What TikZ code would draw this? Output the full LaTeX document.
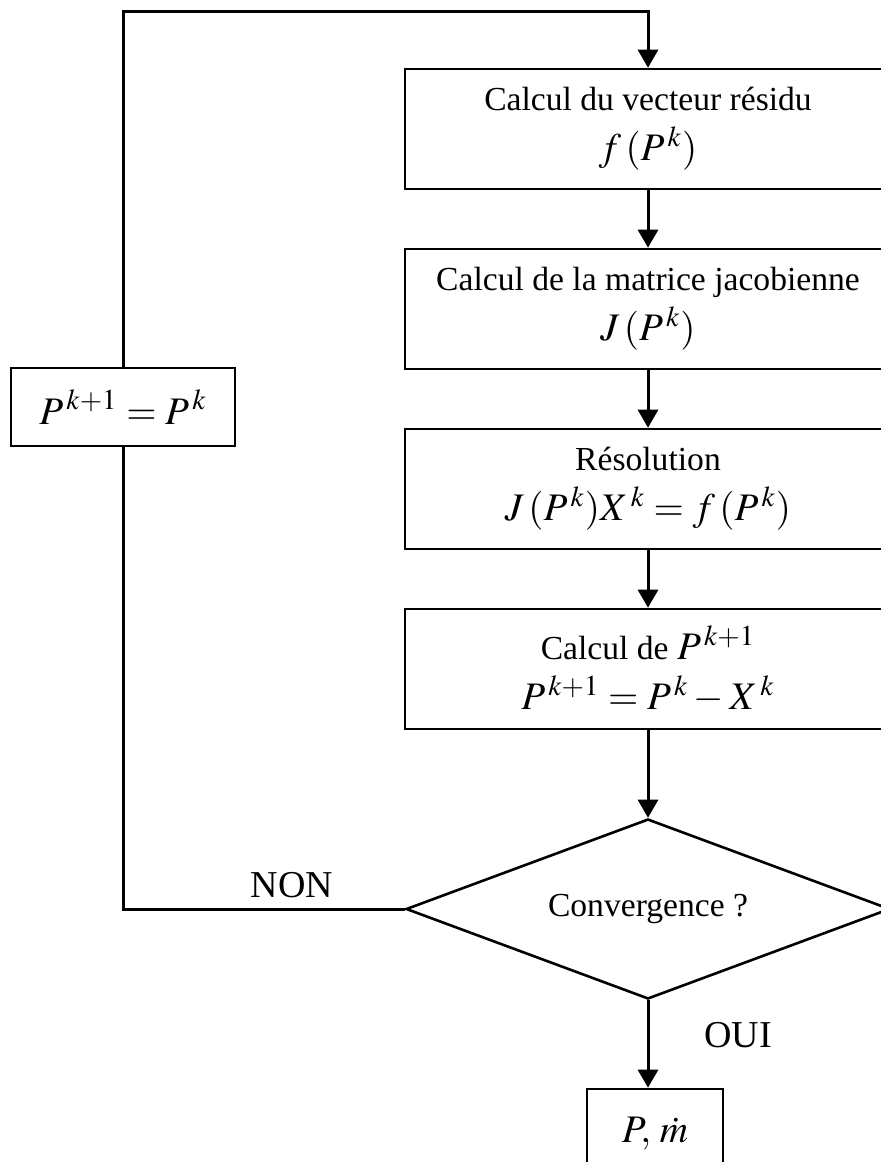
\documentclass[tikz,border=0pt]{standalone}
\usepackage{amsmath}
\usepackage{mathptmx}
\usepackage[no-math]{fontspec}
\setmainfont{Liberation Serif}
\usepackage{tikz}
\usetikzlibrary{shapes.geometric}
\usetikzlibrary{arrows.meta}
\newcommand{\eqline}[1]{{\fontsize{19.5}{25}\selectfont$#1$}}

\begin{document}
\begin{tikzpicture}[x=0.5pt, y=-0.5pt,
        every node/.style={font=\fontsize{16.8}{25}\selectfont},
        etape/.style={draw, line width=1.3pt, align=center, inner sep=0pt,
            minimum width=243pt, minimum height=60pt},
        test/.style={draw, diamond, line width=1.3pt, inner sep=0pt, aspect=2.7,
            minimum width=242pt, minimum height=90pt},
        reponse/.style={font=\fontsize{19}{22}\selectfont},
        fleche/.style={line width=1.5pt, -{Triangle[length=9pt, width=10pt]}},
        trait/.style={line width=1.5pt}]
    \useasboundingbox (0, 0) rectangle (880, 1162);

    \node[etape] (residu) at (648, 129) {Calcul du vecteur résidu\\ \eqline{f\,(P^{\,k})}};
    \node[etape] (jacob) at (648, 309) {Calcul de la matrice jacobienne\\ \eqline{J\,(P^{\,k})}};
    \node[etape] (resol) at (648, 489) {Résolution\\ \eqline{J\,(P^{\,k})X^{\,k} = f\,(P^{\,k})}};
    \node[etape] (maj) at (648, 669) {Calcul de \eqline{P^{\,k+1}}\\ \eqline{P^{\,k+1} = P^{\,k} - X^{\,k}}};
    \node[test] (conv) at (648, 909) {Convergence ?};
    \node[draw, line width=1.3pt, inner sep=0pt, minimum width=68pt, minimum height=45pt]
        (fin) at (655, 1134) {\eqline{P,\,\dot{m}}};
    \node[draw, line width=1.3pt, inner sep=0pt, minimum width=112pt, minimum height=39pt]
        (iter) at (123, 407) {\eqline{P^{\,k+1} = P^{\,k}}};
    \coordinate (haut) at (123, 11);

    \draw[fleche] (residu) -- (jacob);
    \draw[fleche] (jacob) -- (resol);
    \draw[fleche] (resol) -- (maj);
    \draw[fleche] (maj) -- (conv);
    \draw[fleche] (conv.south) -- (conv.south |- fin.north);
    \draw[trait] (conv.west) -- (iter.south |- conv.west) -- (iter.south);
    \draw[fleche] (iter.north) -- (haut) -- (residu.north |- haut) -- (residu.north);

    \node[reponse, anchor=base] (non) at (292, 897) {NON};
    \node[reponse, anchor=base] (oui) at (738, 1047) {OUI};
\end{tikzpicture}
\end{document}
